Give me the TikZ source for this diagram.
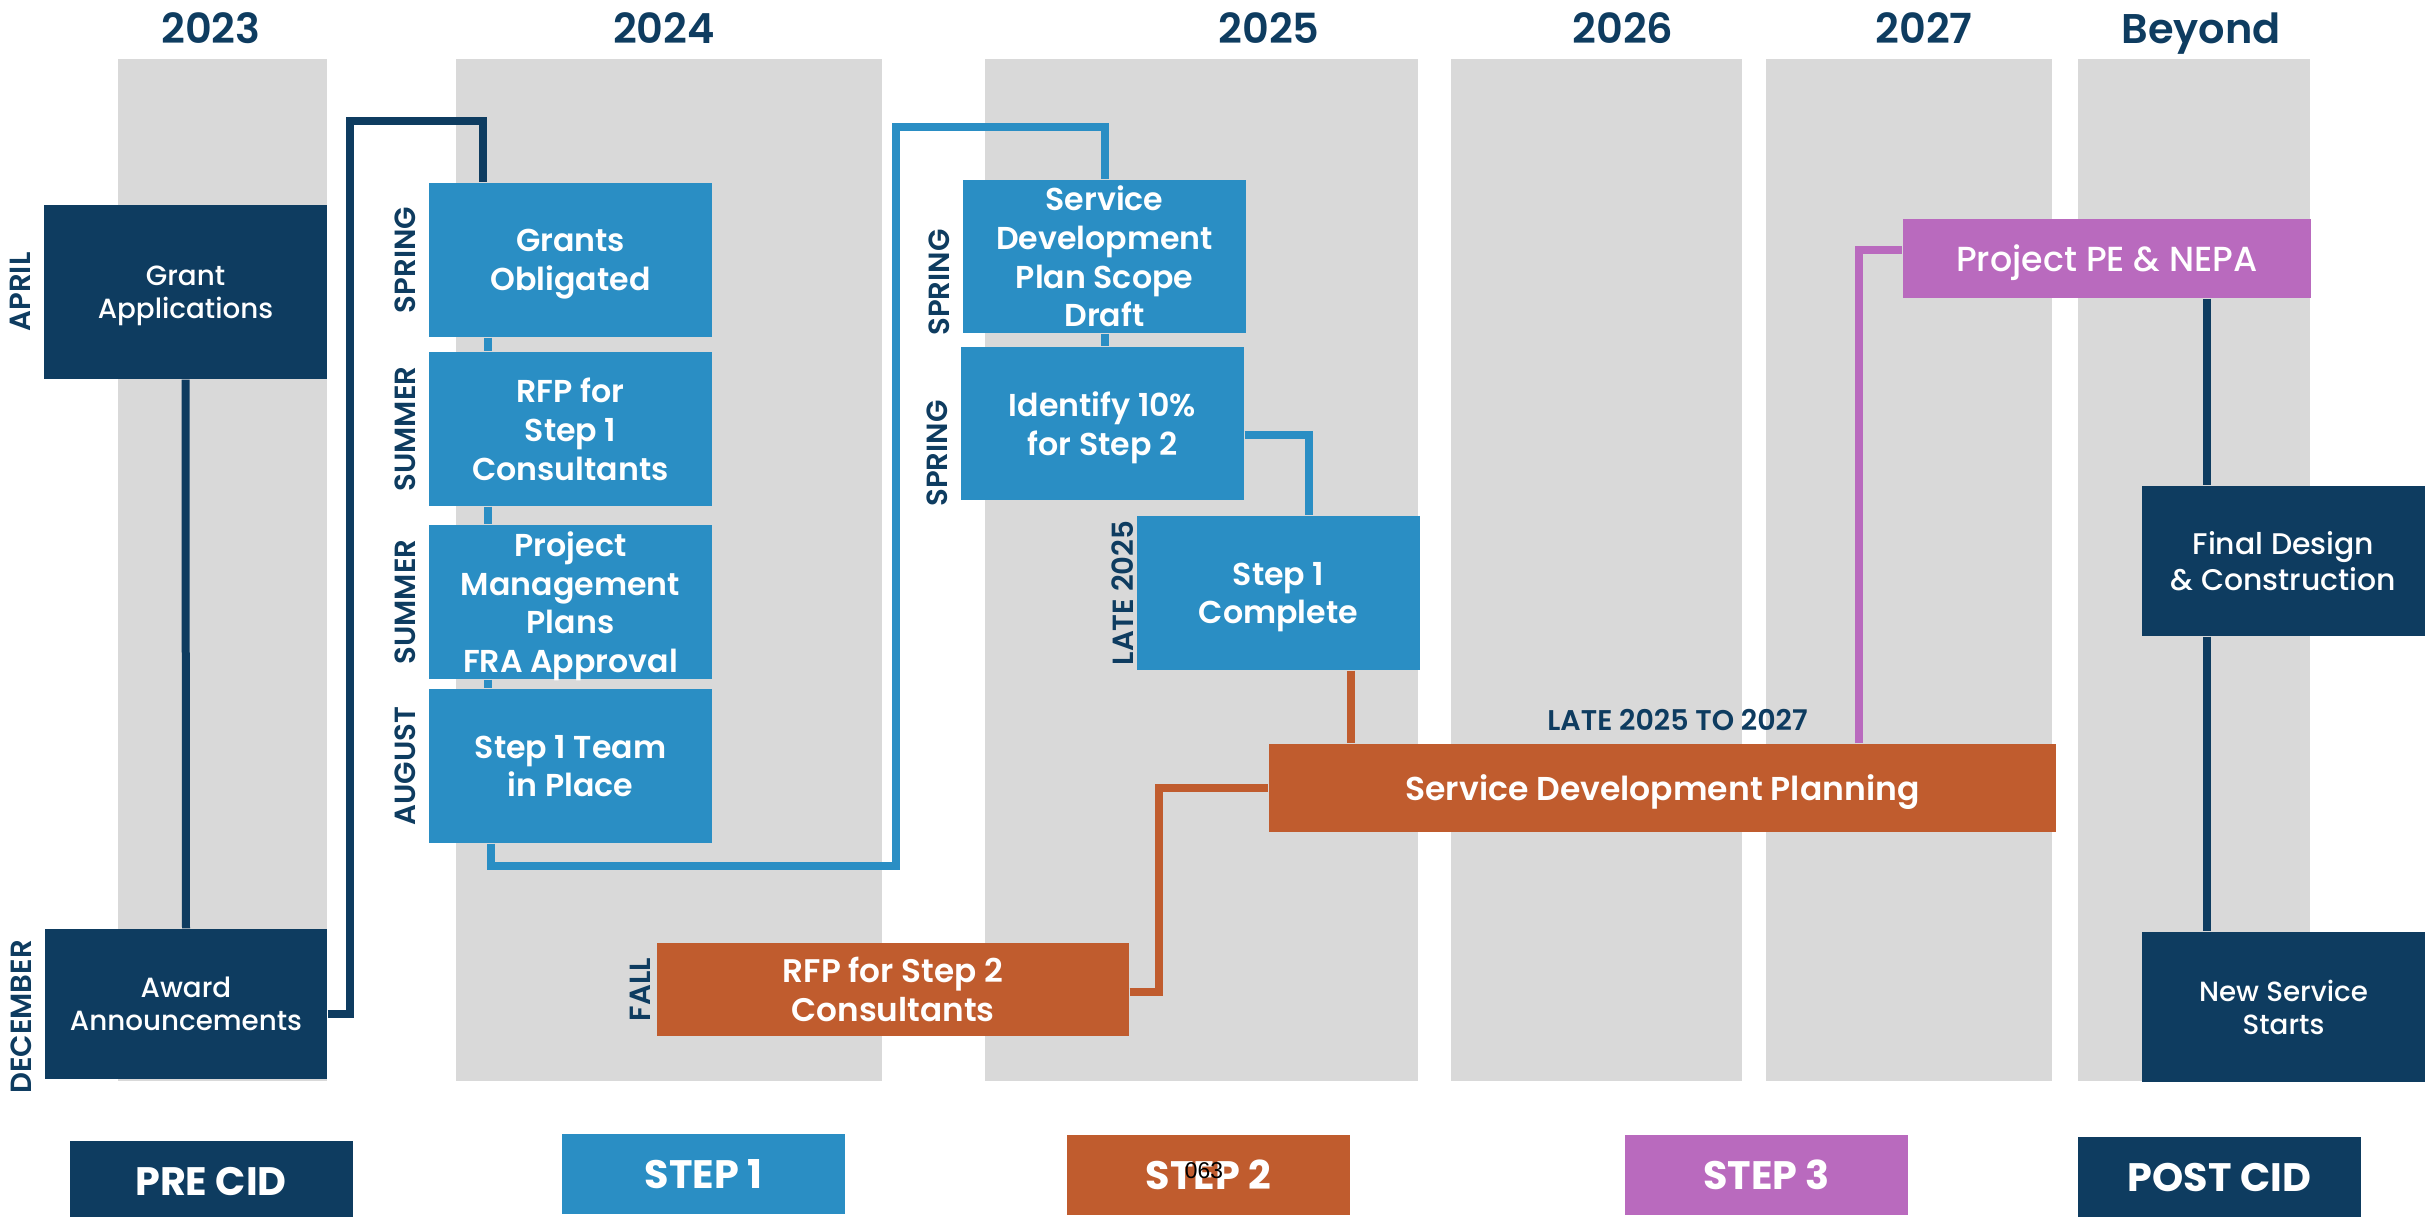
\documentclass[tikz,border=0pt]{standalone}
\usepackage{fontspec}
\setmainfont{Poppins}[BoldFont={Poppins SemiBold}]
\newfontfamily\medfont{Poppins Medium}
\newfontfamily\heavyfont{Poppins Bold}
\newfontfamily\plainfont{Liberation Sans}
\usetikzlibrary{positioning,backgrounds}
\definecolor{navy}{RGB}{14,60,96}
\definecolor{cidblue}{RGB}{42,142,196}
\definecolor{cidorange}{RGB}{192,92,46}
\definecolor{cidpurple}{RGB}{185,106,190}
\definecolor{colgray}{RGB}{217,217,217}
\tikzset{
  box/.style={inner sep=0pt, text=white, align=center, text depth=0pt, minimum width=28.3mm, minimum height=15.4mm},
  navybox/.style={box, fill=navy, minimum height=15mm, font=\medfont\fontsize{7.9}{9.4}\selectfont},
  bluebox/.style={box, fill=cidblue, font=\bfseries\fontsize{9}{11}\selectfont},
  orangebox/.style={box, fill=cidorange, font=\bfseries\fontsize{9.3}{11}\selectfont},
  purplebox/.style={box, fill=cidpurple, font=\medfont\fontsize{9.9}{11}\selectfont},
  legendbox/.style={box, minimum height=8mm, font=\heavyfont\fontsize{11.3}{13}\selectfont},
  sidelbl/.style={rotate=90, anchor=south, text=navy, font=\bfseries\fontsize{8.3}{10}\selectfont},
  yearlbl/.style={text=navy, font=\bfseries\fontsize{11.8}{14}\selectfont},
  link/.style={line width=0.8mm},
}
\begin{document}
\begin{tikzpicture}[x=0.1mm, y=-0.1mm]
\useasboundingbox (0,0) rectangle (2430,1216);
% year columns
\begin{scope}[on background layer]
\foreach \l/\r in {118/327, 456/882, 985/1418, 1451/1742, 1766/2052, 2078/2310}
  \fill[colgray] (\l,59) rectangle (\r,1081);
\end{scope}
\foreach \yr/\xx in {2023/211, 2024/664, 2025/1269, 2026/1623, 2027/1924, Beyond/2201}
  \node[yearlbl, anchor=base] (y\yr) at (\xx,43) {\yr};

% pre cid
\node[navybox, minimum height=17.4mm] (grantapp) at (185.5,292) {Grant\\Applications};
\node[navybox, minimum width=28.2mm] (award) at (186,1004) {Award\\Announcements};
\node[sidelbl] (lApril) at (grantapp.west) {APRIL};
\node[sidelbl] (lDec) at ([yshift=-1.3mm]award.west) {DECEMBER};

% step 1
\node[bluebox] (grants) at (570.5,260) {Grants\\Obligated};
\node[bluebox] (rfp1) at (570.5,429) {RFP for\\Step 1\\Consultants};
\node[bluebox] (pmp) at (570.5,602) {Project\\Management\\Plans\\FRA Approval};
\node[bluebox] (team) at (570.5,766) {Step 1 Team\\in Place};
\node[bluebox, minimum height=15.3mm] (sdpdraft) at (1104.5,256.5) {Service\\Development\\Plan Scope\\Draft};
\node[bluebox, minimum height=15.3mm] (identify) at (1102.5,423.5) {Identify 10\%\\for Step 2};
\node[bluebox] (complete) at (1278.5,593) {Step 1\\Complete};
\node[sidelbl] (lSpringA) at (grants.west) {SPRING};
\node[sidelbl] (lSummerA) at (rfp1.west) {SUMMER};
\node[sidelbl] (lSummerB) at (pmp.west) {SUMMER};
\node[sidelbl] (lAugust) at (team.west) {AUGUST};
\node[sidelbl] (lSpringB) at ([yshift=-2.6mm]sdpdraft.west) {SPRING};
\node[sidelbl] (lSpringC) at ([yshift=-3mm]identify.west) {SPRING};
\node[sidelbl, inner sep=0.5pt] (lLate) at (complete.west) {LATE 2025};

% step 2
\node[orangebox, minimum width=47.2mm, minimum height=9.3mm] (rfp2) at (893,989.5) {RFP for Step 2\\Consultants};
\node[sidelbl, inner sep=1.5pt] (lFall) at (rfp2.west) {FALL};
\node[orangebox, minimum width=78.7mm, minimum height=8.8mm,
  font=\bfseries\fontsize{9.4}{11}\selectfont] (sdplan) at (1662.5,788) {Service Development Planning};
\node[yearlbl, font=\bfseries\fontsize{8.1}{10}\selectfont, above=0pt of sdplan, xshift=1.5mm] (lSpan) {LATE 2025 TO 2027};

% step 3 and post cid
\node[purplebox, minimum width=40.8mm, minimum height=7.9mm] (pepa) at (2107,258.5) {Project PE \& NEPA};
\node[navybox, font=\medfont\fontsize{8.5}{10}\selectfont] (final) at (2283.5,561) {Final Design\\\& Construction};
\node[navybox] (newsvc) at (2283.5,1007) {New Service\\Starts};

% legend
\foreach \nm/\cc/\xx/\yy/\txt in {pre/navy/211/1181/PRE CID, step1/cidblue/703.5/1174/STEP 1,
    step2/cidorange/1208.5/1175/STEP 2, step3/cidpurple/1766.5/1175/STEP 3, post/navy/2219.5/1177/POST CID}
  \node[legendbox, fill=\cc] (leg\nm) at (\xx,\yy) {\txt};
\node[inner sep=0pt, font=\plainfont\fontsize{6.5}{7}\selectfont] (pagenum) at (1204,1171) {063};

% connectors
\begin{scope}[on background layer={link}]
\draw[navy] (grantapp.south) -- (award.north);
\draw[navy] ([yshift=-1mm]award.east) -- ++(22,0) |- ([xshift=-8.75mm,yshift=6.1mm]grants.north) -- ([xshift=-8.75mm]grants.north);
\foreach \a/\b in {grants/rfp1, rfp1/pmp, pmp/team}
  \draw[cidblue] ([xshift=-8.3mm]\a.south) -- ([xshift=-8.3mm]\b.north);
\draw[cidblue] ([xshift=-8mm]team.south) -- ++(0,22) -| (896,127) -| (sdpdraft.north);
\draw[cidblue] (sdpdraft.south) -- (sdpdraft.south |- identify.north);
\draw[cidblue] ([yshift=-1.1mm]identify.east) -| ([xshift=3.05mm]complete.north);
\draw[cidorange] ([xshift=7.25mm]complete.south) -- ([xshift=7.25mm]complete.south |- sdplan.north);
\draw[cidorange] ([yshift=-0.25mm]rfp2.east) -- ++(29,0) |- (sdplan.west);
\draw[cidpurple] ([xshift=19.65mm]sdplan.north) |- ([yshift=0.85mm]pepa.west);
\draw[navy] ([xshift=10mm]pepa.south) -- ([xshift=10mm]pepa.south |- final.north);
\draw[navy] ([xshift=10mm]pepa.south |- final.south) -- ([xshift=10mm]pepa.south |- newsvc.north);
\end{scope}
\end{tikzpicture}
\end{document}
